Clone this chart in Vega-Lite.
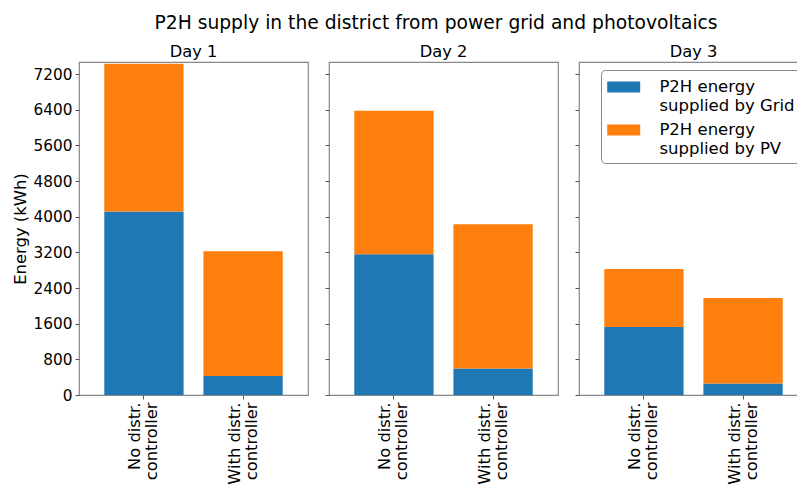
{
  "$schema": "https://vega.github.io/schema/vega-lite/v6.json",
  "padding": {"left": 11, "top": 14, "right": 0, "bottom": 0},
  "background": "white",
  "title": {"text": "P2H supply in the district from power grid and photovoltaics", "font": "DejaVu Sans", "fontSize": 18.7, "fontWeight": "normal", "color": "#000", "anchor": "middle", "offset": 10, "dx": 26},
  "data": {"values": [
    {"day": "Day 1", "config": "No distr.|controller", "source": "P2H energy|supplied by Grid", "energy": 4117},
    {"day": "Day 1", "config": "No distr.|controller", "source": "P2H energy|supplied by PV", "energy": 3314},
    {"day": "Day 1", "config": "With distr.|controller", "source": "P2H energy|supplied by Grid", "energy": 427},
    {"day": "Day 1", "config": "With distr.|controller", "source": "P2H energy|supplied by PV", "energy": 2799},
    {"day": "Day 2", "config": "No distr.|controller", "source": "P2H energy|supplied by Grid", "energy": 3159},
    {"day": "Day 2", "config": "No distr.|controller", "source": "P2H energy|supplied by PV", "energy": 3217},
    {"day": "Day 2", "config": "With distr.|controller", "source": "P2H energy|supplied by Grid", "energy": 592},
    {"day": "Day 2", "config": "With distr.|controller", "source": "P2H energy|supplied by PV", "energy": 3240},
    {"day": "Day 3", "config": "No distr.|controller", "source": "P2H energy|supplied by Grid", "energy": 1527},
    {"day": "Day 3", "config": "No distr.|controller", "source": "P2H energy|supplied by PV", "energy": 1302},
    {"day": "Day 3", "config": "With distr.|controller", "source": "P2H energy|supplied by Grid", "energy": 256},
    {"day": "Day 3", "config": "With distr.|controller", "source": "P2H energy|supplied by PV", "energy": 1922}
  ]},
  "spacing": 14,
  "hconcat": [
    {
      "width": 229, "height": 333,
      "title": {"text": "Day 1"},
      "transform": [{"filter": "datum.day == 'Day 1'"}],
      "mark": {"type": "bar"},
      "encoding": {
        "x": {"field": "config", "type": "nominal", "title": null, "sort": null,
          "scale": {"paddingInner": 0.2, "paddingOuter": 0.255}},
        "y": {"field": "energy", "type": "quantitative", "stack": "zero", "title": "Energy (kWh)",
          "scale": {"domain": [0, 7470], "nice": false},
          "axis": {"values": [0, 800, 1600, 2400, 3200, 4000, 4800, 5600, 6400, 7200], "format": "d", "titlePadding": 5}},
        "color": {"field": "source", "type": "nominal", "title": null,
          "scale": {"domain": ["P2H energy|supplied by Grid", "P2H energy|supplied by PV"], "range": ["#1f77b4", "#ff7f0e"]},
          "legend": {"orient": "none", "legendX": 522, "legendY": 8, "labelExpr": "split(datum.label, '|')", "labelFont": "DejaVu Sans", "labelFontSize": 16.5, "labelLineHeight": 17, "labelColor": "#000", "labelLimit": 300, "labelOffset": 24.7, "symbolOffset": 5.7, "symbolType": "M-1.5,-0.5H1.5V0.5H-1.5Z", "symbolSize": 484, "symbolStrokeWidth": 0, "rowPadding": 5, "padding": 6, "strokeColor": "#888", "fillColor": "white", "cornerRadius": 4}},
        "order": {"field": "source", "sort": "ascending"}
      }
    },
    {
      "width": 229, "height": 333,
      "title": {"text": "Day 2"},
      "transform": [{"filter": "datum.day == 'Day 2'"}],
      "mark": {"type": "bar"},
      "encoding": {
        "x": {"field": "config", "type": "nominal", "title": null, "sort": null,
          "scale": {"paddingInner": 0.2, "paddingOuter": 0.255}},
        "y": {"field": "energy", "type": "quantitative", "stack": "zero", "title": null,
          "scale": {"domain": [0, 7470], "nice": false},
          "axis": {"values": [0, 800, 1600, 2400, 3200, 4000, 4800, 5600, 6400, 7200], "labels": false}},
        "color": {"field": "source", "type": "nominal", "title": null,
          "scale": {"domain": ["P2H energy|supplied by Grid", "P2H energy|supplied by PV"], "range": ["#1f77b4", "#ff7f0e"]}},
        "order": {"field": "source", "sort": "ascending"}
      }
    },
    {
      "width": 229, "height": 333,
      "title": {"text": "Day 3"},
      "transform": [{"filter": "datum.day == 'Day 3'"}],
      "mark": {"type": "bar"},
      "encoding": {
        "x": {"field": "config", "type": "nominal", "title": null, "sort": null,
          "scale": {"paddingInner": 0.2, "paddingOuter": 0.255}},
        "y": {"field": "energy", "type": "quantitative", "stack": "zero", "title": null,
          "scale": {"domain": [0, 7470], "nice": false},
          "axis": {"values": [0, 800, 1600, 2400, 3200, 4000, 4800, 5600, 6400, 7200], "labels": false}},
        "color": {"field": "source", "type": "nominal", "title": null,
          "scale": {"domain": ["P2H energy|supplied by Grid", "P2H energy|supplied by PV"], "range": ["#1f77b4", "#ff7f0e"]}},
        "order": {"field": "source", "sort": "ascending"}
      }
    }
  ],
  "resolve": {"scale": {"color": "shared"}, "legend": {"color": "shared"}},
  "config": {
    "view": {"stroke": "#888", "strokeWidth": 1.2},
    "font": "DejaVu Sans",
    "title": {"font": "DejaVu Sans", "fontSize": 16.3, "fontWeight": "normal", "color": "#000", "offset": 2, "anchor": "middle"},
    "axisX": {"labelAngle": -90, "labelAlign": "right", "labelBaseline": "middle", "labelOffset": -8.5, "labelExpr": "split(datum.label, '|')", "labelFont": "DejaVu Sans", "labelFontSize": 16.3, "labelColor": "#000", "labelLineHeight": 17, "tickColor": "#555", "tickSize": 4, "labelPadding": 3, "domain": false},
    "axisY": {"grid": false, "domain": false, "labelFont": "DejaVu Sans", "labelFontSize": 15.3, "labelColor": "#000", "tickColor": "#555", "tickSize": 4, "labelPadding": 3, "titleFont": "DejaVu Sans", "titleFontSize": 16.4, "titleFontWeight": "normal", "titleColor": "#000"}
  }
}
